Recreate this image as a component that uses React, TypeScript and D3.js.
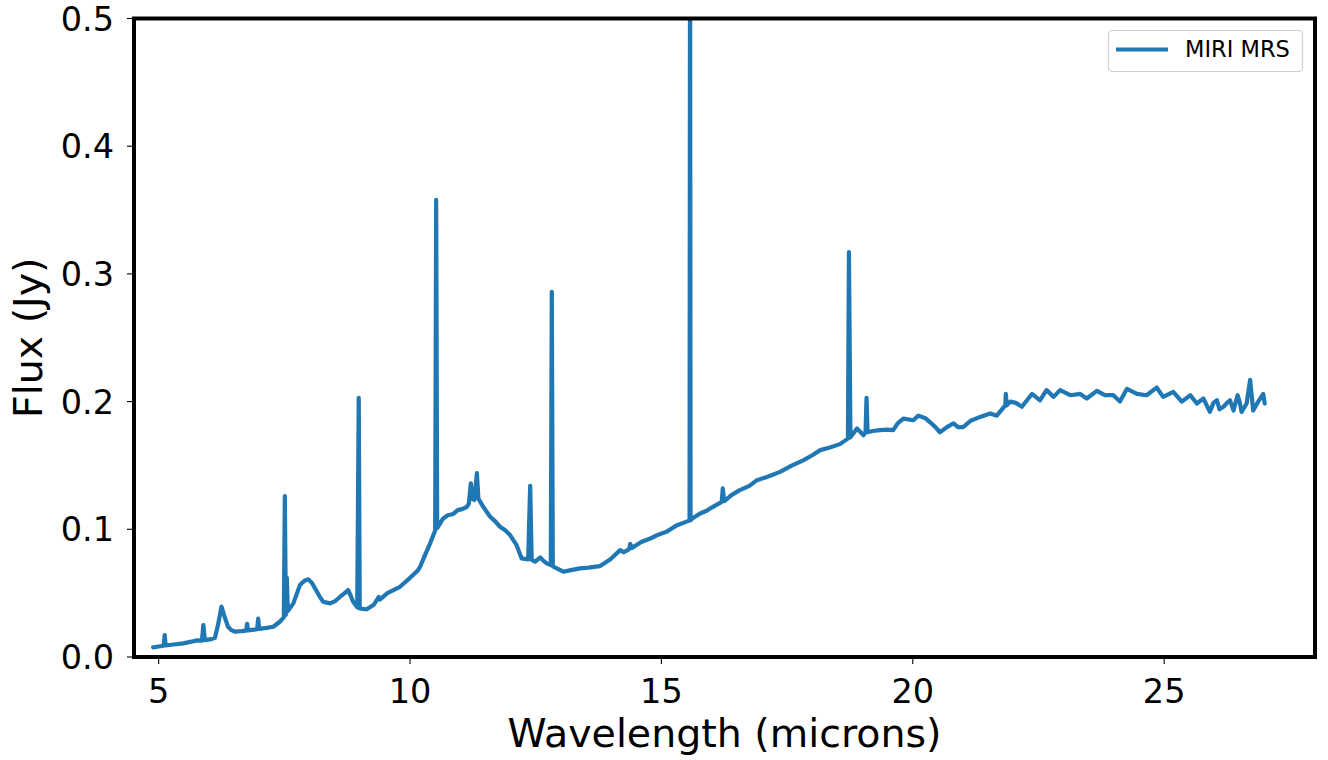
import React, { useEffect, useRef } from 'react';
import * as d3 from 'd3';

// spectrum (wavelength in microns, flux in Jy)
const wavelength = [
  4.89, 5.0, 5.1, 5.12, 5.14, 5.3, 5.49, 5.65, 5.76, 5.86, 5.89, 5.92, 6.05, 6.12, 6.18, 6.25, 6.3, 6.38, 6.45, 6.52,
  6.65, 6.74, 6.76, 6.78, 6.9, 6.96, 6.98, 7.0, 7.15, 7.28, 7.41, 7.49, 7.51, 7.53, 7.55, 7.57, 7.68, 7.81, 7.9, 7.98,
  8.05, 8.11, 8.2, 8.27, 8.41, 8.52, 8.61, 8.7, 8.77, 8.82, 8.87, 8.95, 8.98, 9.0, 9.14, 9.28, 9.38, 9.4, 9.55, 9.8,
  10.0, 10.16, 10.2, 10.3, 10.4, 10.5, 10.52, 10.54, 10.66, 10.75, 10.86, 10.95, 11.05, 11.13, 11.17, 11.21, 11.24, 11.28, 11.33, 11.36,
  11.45, 11.59, 11.7, 11.79, 11.9, 11.99, 12.12, 12.22, 12.35, 12.39, 12.42, 12.49, 12.59, 12.65, 12.72, 12.8, 12.82, 12.84, 12.92, 13.05,
  13.2, 13.38, 13.55, 13.78, 13.98, 14.18, 14.25, 14.36, 14.38, 14.42, 14.6, 14.79, 14.95, 15.1, 15.3, 15.5, 15.56, 15.57, 15.58, 15.6,
  15.77, 15.9, 16.0, 16.2, 16.22, 16.25, 16.4, 16.56, 16.75, 16.9, 17.1, 17.36, 17.6, 17.82, 18.0, 18.16, 18.35, 18.55, 18.71, 18.73,
  18.76, 18.89, 19.02, 19.06, 19.08, 19.1, 19.2, 19.35, 19.5, 19.61, 19.7, 19.81, 20.01, 20.11, 20.25, 20.34, 20.45, 20.54, 20.68, 20.81,
  20.9, 21.0, 21.15, 21.34, 21.54, 21.67, 21.84, 21.85, 21.87, 21.94, 22.05, 22.17, 22.37, 22.53, 22.66, 22.8, 22.93, 23.13, 23.33, 23.46,
  23.66, 23.82, 23.99, 24.12, 24.26, 24.46, 24.65, 24.85, 24.98, 25.18, 25.35, 25.52, 25.65, 25.78, 25.91, 25.98, 26.05, 26.1, 26.18, 26.25,
  26.31, 26.38, 26.46, 26.5, 26.54, 26.64, 26.71, 26.77, 26.87, 26.97, 27.0,
];
const flux = [
  0.0076, 0.0082, 0.0088, 0.0172, 0.009, 0.0098, 0.0107, 0.012, 0.013, 0.0128, 0.025, 0.0132, 0.014, 0.015, 0.025, 0.0394, 0.033, 0.0237, 0.021, 0.0198,
  0.0202, 0.0206, 0.026, 0.0208, 0.0214, 0.0218, 0.03, 0.022, 0.0228, 0.0237, 0.0276, 0.031, 0.126, 0.033, 0.062, 0.036, 0.042, 0.0563, 0.0598, 0.0608,
  0.058, 0.0538, 0.0475, 0.0433, 0.042, 0.044, 0.0472, 0.05, 0.0524, 0.048, 0.0433, 0.039, 0.203, 0.038, 0.0373, 0.041, 0.047, 0.045, 0.05, 0.055,
  0.062, 0.068, 0.0707, 0.08, 0.089, 0.099, 0.358, 0.101, 0.1085, 0.111, 0.112, 0.115, 0.116, 0.1176, 0.12, 0.136, 0.124, 0.123, 0.144, 0.124,
  0.118, 0.11, 0.106, 0.102, 0.099, 0.0955, 0.0876, 0.0772, 0.0764, 0.134, 0.076, 0.0746, 0.078, 0.0755, 0.0733, 0.072, 0.286, 0.071, 0.0694, 0.0668,
  0.068, 0.0694, 0.07, 0.0712, 0.0764, 0.0837, 0.082, 0.0845, 0.0885, 0.0855, 0.09, 0.093, 0.096, 0.098, 0.103, 0.106, 0.107, 0.6, 0.107, 0.108,
  0.1124, 0.1145, 0.117, 0.1215, 0.132, 0.122, 0.127, 0.1307, 0.134, 0.1385, 0.141, 0.145, 0.15, 0.154, 0.158, 0.162, 0.164, 0.1667, 0.171, 0.317,
  0.172, 0.179, 0.1737, 0.176, 0.203, 0.176, 0.177, 0.1776, 0.178, 0.1776, 0.183, 0.1867, 0.1854, 0.189, 0.187, 0.184, 0.18, 0.176, 0.18, 0.183,
  0.18, 0.18, 0.185, 0.188, 0.1907, 0.189, 0.197, 0.206, 0.197, 0.2, 0.199, 0.196, 0.206, 0.201, 0.209, 0.2037, 0.209, 0.205, 0.206, 0.2024,
  0.2084, 0.205, 0.205, 0.2, 0.21, 0.206, 0.205, 0.211, 0.2037, 0.2076, 0.2, 0.205, 0.1985, 0.2024, 0.192, 0.199, 0.201, 0.194, 0.196, 0.199,
  0.201, 0.193, 0.205, 0.2, 0.192, 0.1985, 0.217, 0.193, 0.2, 0.206, 0.1985,
];

const xTicks = [5, 10, 15, 20, 25];
const yTicks = [0, 0.1, 0.2, 0.3, 0.4, 0.5];
const seriesName = 'MIRI MRS';

const App = () => {
  const ref = useRef<SVGSVGElement>(null);

  useEffect(() => {
    document.body.style.margin = '0';
    const svg = d3.select(ref.current);
    svg.selectAll('*').remove();

    const width = 1328;
    const height = 760;
    const margin = { top: 18.5, right: 13, bottom: 103, left: 134 };
    const font = 'DejaVu Sans';
    const color = '#1f77b4';

    const x = d3.scaleLinear().domain([4.51, 28.0]).range([margin.left, width - margin.right]);
    const y = d3.scaleLinear().domain([0, 0.5]).range([height - margin.bottom, margin.top]);

    const points = wavelength.map((w, i) => [w, flux[i]] as [number, number]);

    svg.append('defs')
      .append('clipPath')
      .attr('id', 'plot-clip')
      .append('rect')
      .attr('x', margin.left)
      .attr('y', margin.top)
      .attr('width', width - margin.left - margin.right)
      .attr('height', height - margin.top - margin.bottom);

    const line = d3.line<[number, number]>()
      .x(d => x(d[0]))
      .y(d => y(d[1]));

    svg.append('path')
      .datum(points)
      .attr('clip-path', 'url(#plot-clip)')
      .attr('fill', 'none')
      .attr('stroke', color)
      .attr('stroke-width', 4.2)
      .attr('stroke-linejoin', 'round')
      .attr('stroke-linecap', 'round')
      .attr('d', line);

    // ticks
    const gx = svg.append('g');
    xTicks.forEach(t => {
      gx.append('line')
        .attr('x1', x(t)).attr('x2', x(t))
        .attr('y1', y(0)).attr('y2', y(0) + 7)
        .attr('stroke', '#000').attr('stroke-width', 1.1);
      gx.append('text')
        .attr('x', x(t)).attr('y', 702.5)
        .attr('text-anchor', 'middle')
        .attr('font-family', font).attr('font-size', 33.5)
        .text(t);
    });

    const gy = svg.append('g');
    yTicks.forEach(t => {
      gy.append('line')
        .attr('x1', margin.left - 7).attr('x2', margin.left)
        .attr('y1', y(t)).attr('y2', y(t))
        .attr('stroke', '#000').attr('stroke-width', 1.1);
      gy.append('text')
        .attr('x', 114).attr('y', y(t))
        .attr('dy', '0.36em')
        .attr('text-anchor', 'end')
        .attr('font-family', font).attr('font-size', 33.5)
        .text(t.toFixed(1));
    });

    // frame
    svg.append('rect')
      .attr('x', margin.left).attr('y', margin.top)
      .attr('width', width - margin.left - margin.right)
      .attr('height', height - margin.top - margin.bottom)
      .attr('fill', 'none')
      .attr('stroke', '#000')
      .attr('stroke-width', 4);

    // axis labels
    svg.append('text')
      .attr('x', (margin.left + width - margin.right) / 2)
      .attr('y', 747)
      .attr('text-anchor', 'middle')
      .attr('font-family', font).attr('font-size', 39.5)
      .text('Wavelength (microns)');

    svg.append('text')
      .attr('transform', `translate(42,${(margin.top + height - margin.bottom) / 2}) rotate(-90)`)
      .attr('text-anchor', 'middle')
      .attr('font-family', font).attr('font-size', 39.5)
      .text('Flux (Jy)');

    // legend
    const lg = svg.append('g');
    lg.append('rect')
      .attr('x', 1108.5).attr('y', 30.5)
      .attr('width', 194).attr('height', 41)
      .attr('rx', 4)
      .attr('fill', '#fff').attr('fill-opacity', 0.8)
      .attr('stroke', '#d0d0d0').attr('stroke-width', 1.2);
    lg.append('line')
      .attr('x1', 1116).attr('x2', 1168)
      .attr('y1', 49.5).attr('y2', 49.5)
      .attr('stroke', color).attr('stroke-width', 4.2);
    lg.append('text')
      .attr('x', 1185).attr('y', 57)
      .attr('font-family', font).attr('font-size', 22.5)
      .text(seriesName);
  }, []);

  return <svg ref={ref} width={1328} height={760} style={{ display: 'block' }}></svg>;
};

export default App;
